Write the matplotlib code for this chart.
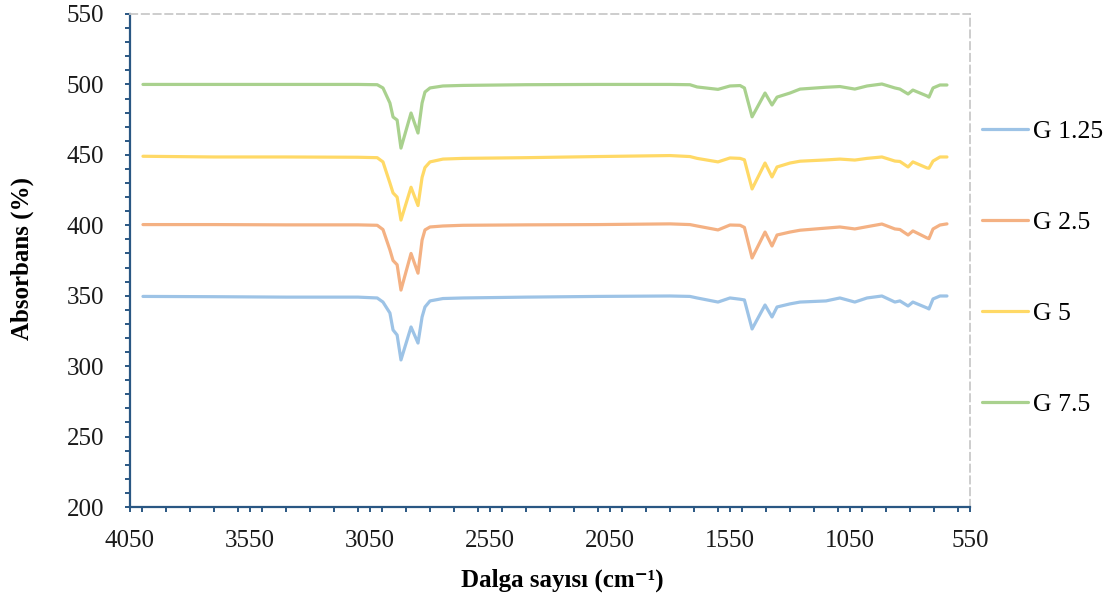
import matplotlib
matplotlib.use("Agg")
import matplotlib.pyplot as plt
from matplotlib.ticker import MultipleLocator, FixedLocator

# Wavenumber grid (cm-1), shared by all spectra
wavenumber = [3996, 3700, 3400, 3100, 3020, 2996, 2967, 2954, 2937, 2921,
              2879, 2850, 2833, 2821, 2800, 2746, 2663, 2400, 2100, 1800,
              1717, 1687, 1600, 1550, 1508, 1490, 1458, 1404, 1375, 1354,
              1300, 1258, 1150, 1092, 1030, 979, 917, 863, 842, 808,
              788, 729, 721, 704, 675, 646]

g_1_25 = [349.5, 349.3, 349.0, 349.0, 348.4, 345.5, 337.7, 325.7, 322.1, 304.4,
          327.8, 316.4, 334.9, 342.0, 346.3, 348.0, 348.4, 349.0, 349.5, 349.8,
          349.5, 348.4, 345.5, 348.4, 347.5, 347.0, 326.4, 343.4, 334.9, 342.0,
          344.2, 345.5, 346.3, 348.4, 345.5, 348.4, 349.8, 345.5, 346.3, 342.7,
          345.5, 341.3, 340.6, 347.7, 349.8, 349.8]

g_2_5 = [400.5, 400.5, 400.3, 400.3, 400.0, 397.0, 382.5, 375.0, 372.0, 354.0,
         380.0, 366.0, 389.5, 396.7, 398.8, 399.5, 400.0, 400.3, 400.5, 401.0,
         400.5, 399.5, 396.7, 400.2, 400.0, 398.5, 376.8, 395.2, 385.3, 393.1,
         395.2, 396.5, 398.0, 398.8, 397.4, 399.0, 400.9, 397.4, 397.0, 393.1,
         396.0, 391.0, 390.5, 397.4, 400.2, 401.0]

g_5 = [449.0, 448.5, 448.5, 448.3, 448.0, 445.0, 430.0, 423.0, 420.0, 403.7,
       427.0, 414.0, 434.0, 441.0, 445.0, 447.0, 447.5, 448.0, 448.8, 449.5,
       448.8, 447.5, 445.0, 447.8, 447.5, 446.5, 425.8, 444.2, 434.3, 441.4,
       444.2, 445.5, 446.4, 447.0, 446.3, 447.5, 448.5, 445.6, 445.3, 441.4,
       445.0, 440.7, 440.5, 445.6, 448.5, 448.5]

g_7_5 = [500.0, 500.0, 500.0, 500.0, 499.8, 497.5, 486.8, 476.9, 474.7, 454.8,
         479.7, 465.5, 486.8, 494.6, 497.5, 498.9, 499.3, 499.8, 500.0, 500.0,
         499.8, 498.2, 496.5, 498.9, 499.2, 497.5, 477.0, 493.9, 485.4, 491.0,
         493.9, 496.7, 498.0, 498.5, 496.7, 498.9, 500.3, 497.5, 496.7, 493.2,
         496.0, 491.8, 491.0, 497.5, 499.6, 499.6]

series_labels = ["G 1.25", "G 2.5", "G 5", "G 7.5"]
series_values = [g_1_25, g_2_5, g_5, g_7_5]
series_colors = ["#9DC3E6", "#F4B183", "#FFD966", "#A9D18E"]

x_ticks = [4050, 3550, 3050, 2550, 2050, 1550, 1050, 550]
y_ticks = [200, 250, 300, 350, 400, 450, 500, 550]

serif = ["Liberation Serif", "DejaVu Serif"]
axis_blue = "#2A5783"

fig = plt.figure(figsize=(11.18, 6.01), dpi=100)
ax = fig.add_axes([130 / 1118, 1 - 507 / 601, 840 / 1118, 493 / 601])

for label, values, color in zip(series_labels, series_values, series_colors):
    ax.plot(wavenumber, values, color=color, lw=2.3, label=label,
            solid_joinstyle="round", solid_capstyle="round")

ax.set_xlim(4050, 550)
ax.set_ylim(200, 550)
ax.xaxis.set_major_locator(FixedLocator(x_ticks))
ax.xaxis.set_minor_locator(MultipleLocator(100))
ax.yaxis.set_major_locator(FixedLocator(y_ticks))
ax.yaxis.set_minor_locator(MultipleLocator(10))

for spine in ("left", "bottom"):
    ax.spines[spine].set_color(axis_blue)
    ax.spines[spine].set_linewidth(1.6)
for spine in ("top", "right"):
    ax.spines[spine].set_color("#C9C9C9")
    ax.spines[spine].set_linewidth(1.3)
    ax.spines[spine].set_linestyle((0, (4, 2.5)))

ax.tick_params(which="both", direction="out", length=3.8, width=1.4,
               color=axis_blue)
ax.tick_params(axis="y", which="major", pad=15)
ax.tick_params(axis="x", which="major", pad=13)

for lab in ax.get_xticklabels() + ax.get_yticklabels():
    lab.set_family(serif)
    lab.set_fontsize(18)
    lab.set_color("#1a1a1a")

fig.text(562 / 1118, 1 - 580 / 601, "Dalga sayısı (cm\u207b\u00b9)",
         family=serif, fontsize=18, fontweight="bold", ha="center", va="center")
fig.text(22 / 1118, 1 - 258 / 601, "Absorbans (%)", family=serif, fontsize=18,
         fontweight="bold", rotation=90, ha="center", va="center")

fig.legend(loc="center left", bbox_to_anchor=(982 / 1118, 1 - 268 / 601),
           frameon=False, borderpad=0, borderaxespad=0, labelspacing=2.65,
           handlelength=1.8, handletextpad=0.2,
           prop={"family": serif, "size": 18.5})

fig.savefig("out.png", dpi=100, facecolor="white")
